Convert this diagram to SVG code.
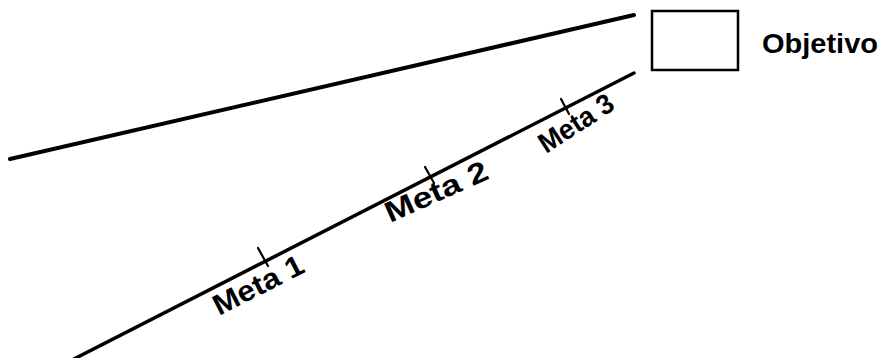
<svg xmlns="http://www.w3.org/2000/svg" width="893" height="358" viewBox="0 0 893 358">
<style>
.ln{stroke:#000;stroke-linecap:round;fill:none}
.lbl{font-family:"Liberation Sans",Arial,sans-serif;font-weight:bold;fill:#000}
</style>
<rect width="893" height="358" fill="#fff"/>
<g id="connectors">
<line class="ln" x1="10" y1="159" x2="634" y2="15" stroke-width="4"/>
<line class="ln" x1="72" y1="360" x2="634" y2="73" stroke-width="3.5"/>
<line class="ln" x1="258" y1="248" x2="268" y2="266" stroke-width="2.2"/>
<line class="ln" x1="425" y1="167" x2="434" y2="183" stroke-width="2.2"/>
<line class="ln" x1="561" y1="99" x2="569" y2="114" stroke-width="2.2"/>
</g>
<g id="objetivo">
<rect x="652" y="11" width="86" height="59" fill="none" stroke="#000" stroke-width="2.5"/>
<text class="lbl" x="762" y="53" font-size="28" textLength="116" lengthAdjust="spacingAndGlyphs">Objetivo</text>
</g>
<g id="meta1">
<text class="lbl" font-size="29" transform="translate(219,316) rotate(-27)" textLength="98" lengthAdjust="spacingAndGlyphs">Meta 1</text>
</g>
<g id="meta2">
<text class="lbl" font-size="29" transform="translate(390,223) rotate(-24)" textLength="110" lengthAdjust="spacingAndGlyphs">Meta 2</text>
</g>
<g id="meta3">
<text class="lbl" font-size="28" transform="translate(546,154) rotate(-33)" textLength="84" lengthAdjust="spacingAndGlyphs">Meta 3</text>
</g>
</svg>
